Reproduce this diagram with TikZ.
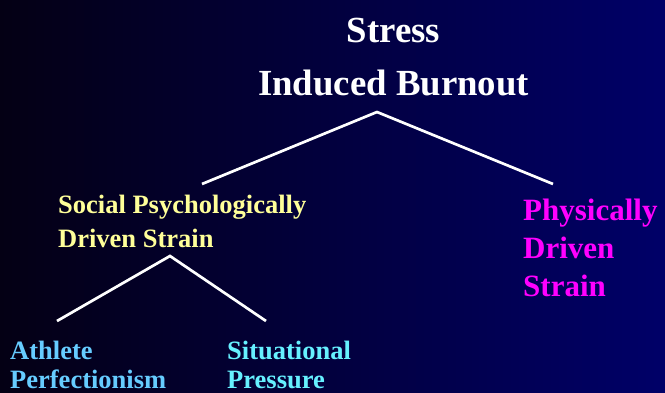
\documentclass[tikz,border=0pt]{standalone}
\usepackage{fontspec}
\setmainfont{Liberation Serif}
\definecolor{navy}{RGB}{0,0,104}
\definecolor{darkleft}{RGB}{4,0,20}
\definecolor{ylw}{RGB}{255,255,153}
\definecolor{lblue}{RGB}{102,204,255}
\definecolor{lcyan}{RGB}{102,240,255}
\definecolor{mgt}{RGB}{255,0,255}
\begin{document}
\begin{tikzpicture}[x=1pt,y=-1pt,
  txt/.style={anchor=base west,inner sep=0pt,font=\bfseries},
  ctxt/.style={anchor=base,inner sep=0pt,font=\bfseries\fontsize{36.8}{40}\selectfont,text=white},
  mid/.style={txt,font=\bfseries\fontsize{26.5}{30}\selectfont},
  big/.style={txt,font=\bfseries\fontsize{31}{36}\selectfont},
  link/.style={draw=white,line width=2.7pt}]
\shade[left color=darkleft,right color=navy] (0,0) rectangle (665,392);
\useasboundingbox (0,0) rectangle (665,392);
\node[ctxt] (t1) at (393.5,42) {Stress};
\node[ctxt] (t2) at (393.5,95) {Induced Burnout};
\node[mid,text=ylw] (sp1) at (58,213) {Social Psychologically};
\node[mid,text=ylw] (sp2) at (58,247) {Driven Strain};
\node[big,text=mgt] (ph1) at (523,220) {Physically};
\node[big,text=mgt] (ph2) at (523,258) {Driven};
\node[big,text=mgt] (ph3) at (523,296) {Strain};
\node[mid,text=lblue] (ap1) at (10,359) {Athlete};
\node[mid,text=lblue] (ap2) at (10,388) {Perfectionism};
\node[mid,text=lcyan] (sit1) at (227,359) {Situational};
\node[mid,text=lcyan] (sit2) at (227,388) {Pressure};
\coordinate (top) at (377,112);
\coordinate (topL) at (202,184);
\coordinate (topR) at (553,184);
\coordinate (sub) at (170,256);
\coordinate (subL) at (57,321);
\coordinate (subR) at (266,321);
\draw[link] (topL) -- (top) -- (topR);
\draw[link] (subL) -- (sub) -- (subR);
\end{tikzpicture}
\end{document}
